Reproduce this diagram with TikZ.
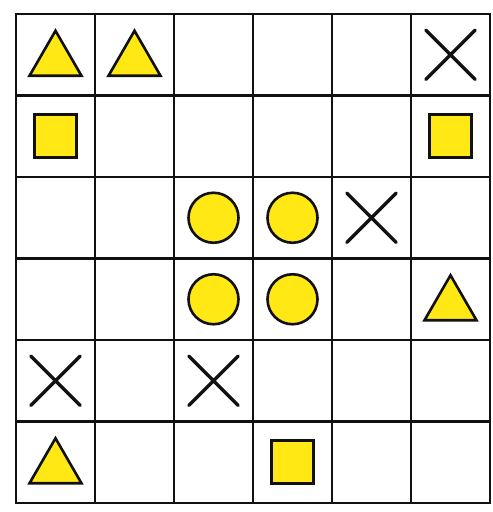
\documentclass[tikz,border=0pt]{standalone}
\usepackage{xcolor}
\usetikzlibrary{shapes.geometric,shapes.misc}
\definecolor{gYellow}{HTML}{FFE814}
\definecolor{gLine}{HTML}{111111}
\tikzset{
  cell/.style={draw=gLine, line width=2.6pt, minimum width=79pt,
               minimum height=81.5pt, inner sep=0pt, fill=white},
  piece/.style={draw=gLine, line width=2.6pt, fill=gYellow, inner sep=0pt},
  tri/.style={piece, regular polygon, regular polygon sides=3,
              minimum size=60pt, yshift=-6pt},
  sq/.style={piece, rectangle, minimum width=42pt, minimum height=43pt},
  disc/.style={piece, circle, minimum size=50pt},
  cross/.style={cross out, draw=gLine, line width=3.4pt, line cap=round,
                minimum size=46pt, inner sep=0pt},
}

\begin{document}
\begin{tikzpicture}[x=1pt, y=-1pt]
\useasboundingbox (0,0) rectangle (493,512);

%% -- the 6x6 board ---------------------------------------------------------
\foreach \r in {1,...,6}
  \foreach \c in {1,...,6}
    \node[cell] (c\r\c) at ({16+79*(\c-0.5)}, {14+81.5*(\r-0.5)}) {};

%% -- row 1 and 2 -----------------------------------------------------------
\node[tri] (t11) at (c11) {};
\node[tri] (t12) at (c12) {};
\node[cross] (x16) at (c16) {};
\node[sq] (s21) at (c21) {};
\node[sq] (s26) at (c26) {};

%% -- the four discs in the middle ------------------------------------------
\node[disc] (d33) at (c33) {};
\node[disc] (d34) at (c34) {};
\node[cross] (x35) at (c35) {};
\node[disc] (d43) at (c43) {};
\node[disc] (d44) at (c44) {};
\node[tri] (t46) at (c46) {};

%% -- row 5 and 6 -----------------------------------------------------------
\node[cross] (x51) at (c51) {};
\node[cross] (x53) at (c53) {};
\node[tri] (t61) at (c61) {};
\node[sq] (s64) at (c64) {};

\end{tikzpicture}
\end{document}
